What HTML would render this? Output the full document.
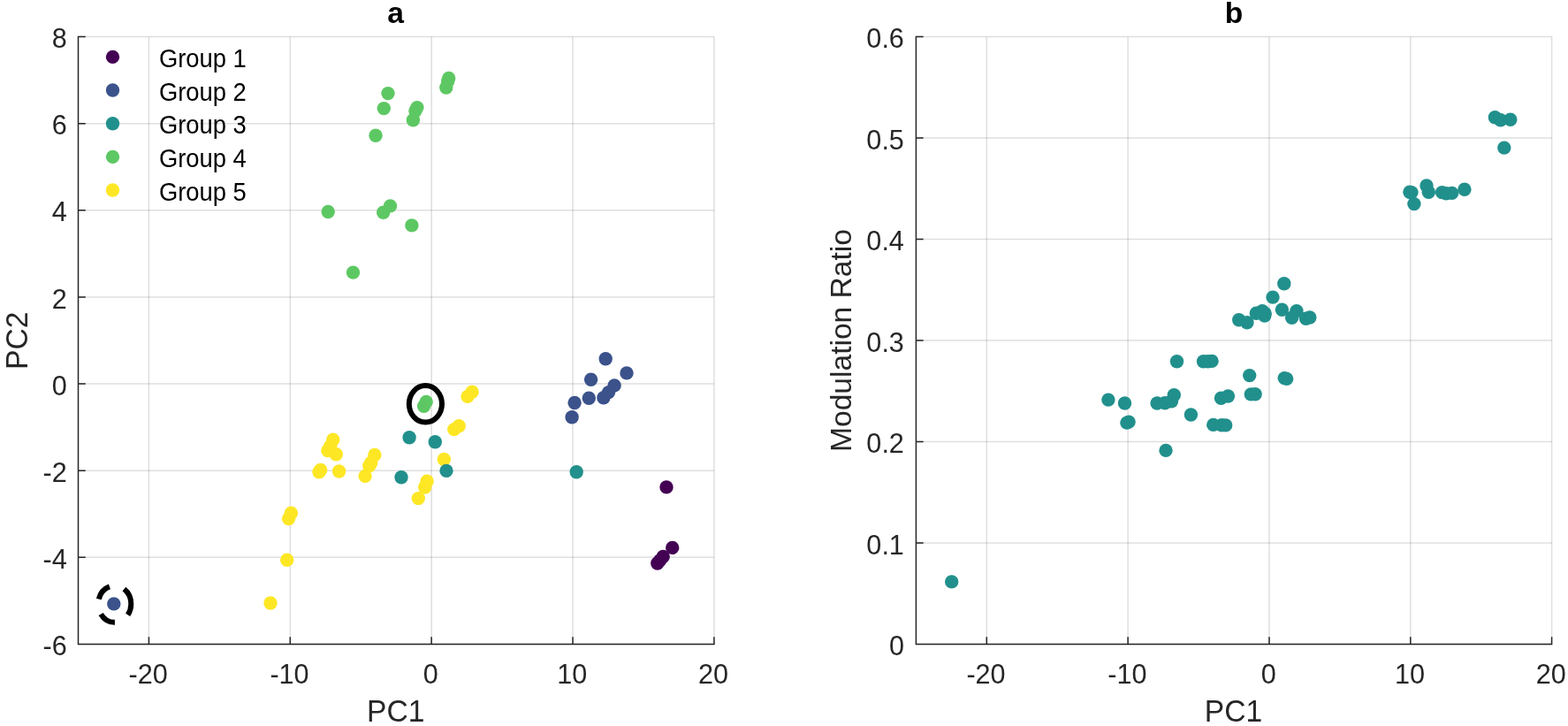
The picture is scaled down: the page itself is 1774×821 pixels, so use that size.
<!DOCTYPE html>
<html lang="en"><head><meta charset="utf-8"><title>PCA scatter</title>
<style>html,body{margin:0;padding:0;background:#fff}body{width:1774px;height:821px;overflow:hidden}svg{display:block}text{font-family:"Liberation Sans",sans-serif}</style>
</head><body>
<svg width="1774" height="821" viewBox="0 0 1774 821" font-family="'Liberation Sans', sans-serif">
<rect width="1774" height="821" fill="#fff"/>
<path d="M168.43 41.5V728.5M328.3 41.5V728.5M488.17 41.5V728.5M648.03 41.5V728.5M807.9 41.5V728.5" stroke="#262626" stroke-opacity="0.15" stroke-width="1.5" fill="none"/>
<path d="M88.5 728.5H807.9M88.5 630.36H807.9M88.5 532.21H807.9M88.5 434.07H807.9M88.5 335.93H807.9M88.5 237.79H807.9M88.5 139.64H807.9M88.5 41.5H807.9" stroke="#262626" stroke-opacity="0.15" stroke-width="1.5" fill="none"/>
<path d="M1116.31 41.5V728.5M1276.13 41.5V728.5M1435.96 41.5V728.5M1595.78 41.5V728.5M1755.6 41.5V728.5" stroke="#262626" stroke-opacity="0.15" stroke-width="1.5" fill="none"/>
<path d="M1036.4 728.5H1755.6M1036.4 614H1755.6M1036.4 499.5H1755.6M1036.4 385H1755.6M1036.4 270.5H1755.6M1036.4 156H1755.6M1036.4 41.5H1755.6" stroke="#262626" stroke-opacity="0.15" stroke-width="1.5" fill="none"/>
<g fill="#5dc863"><circle cx="439" cy="105.6" r="7.7"/><circle cx="434.3" cy="122.6" r="7.7"/><circle cx="425" cy="153.3" r="7.7"/><circle cx="471.9" cy="121.6" r="7.7"/><circle cx="469.9" cy="125.5" r="7.7"/><circle cx="467.4" cy="135.8" r="7.7"/><circle cx="507.7" cy="88.4" r="7.7"/><circle cx="506.7" cy="91.8" r="7.7"/><circle cx="504.8" cy="99" r="7.7"/><circle cx="371.2" cy="239.5" r="7.7"/><circle cx="441.5" cy="232.9" r="7.7"/><circle cx="433.7" cy="240.3" r="7.7"/><circle cx="465.9" cy="254.9" r="7.7"/><circle cx="399.5" cy="308.1" r="7.7"/><circle cx="482.2" cy="454.4" r="7.7"/><circle cx="479.6" cy="459.3" r="7.7"/></g>
<g fill="#fde725"><circle cx="534.1" cy="443.2" r="7.7"/><circle cx="529" cy="448.4" r="7.7"/><circle cx="519.2" cy="481.8" r="7.7"/><circle cx="513.8" cy="485.6" r="7.7"/><circle cx="376.8" cy="497.3" r="7.7"/><circle cx="370.8" cy="509.5" r="7.7"/><circle cx="380.3" cy="513.8" r="7.7"/><circle cx="373.8" cy="504.4" r="7.7"/><circle cx="361" cy="533.8" r="7.7"/><circle cx="362.7" cy="531.4" r="7.7"/><circle cx="383.6" cy="533" r="7.7"/><circle cx="423.9" cy="514.5" r="7.7"/><circle cx="419.8" cy="523.3" r="7.7"/><circle cx="417.8" cy="526.7" r="7.7"/><circle cx="413.1" cy="538.4" r="7.7"/><circle cx="483.1" cy="544.3" r="7.7"/><circle cx="480.7" cy="551" r="7.7"/><circle cx="473.3" cy="563.6" r="7.7"/><circle cx="502.3" cy="519.5" r="7.7"/><circle cx="329.4" cy="580.3" r="7.7"/><circle cx="326.6" cy="586.5" r="7.7"/><circle cx="324.7" cy="633.3" r="7.7"/><circle cx="306" cy="682" r="7.7"/></g>
<g fill="#21908c"><circle cx="463.1" cy="494.7" r="7.7"/><circle cx="492.3" cy="499.7" r="7.7"/><circle cx="454" cy="539.8" r="7.7"/><circle cx="505" cy="532.4" r="7.7"/><circle cx="652.2" cy="533.7" r="7.7"/></g>
<g fill="#3b528b"><circle cx="685.2" cy="405.7" r="7.7"/><circle cx="709" cy="421.9" r="7.7"/><circle cx="668.6" cy="429.2" r="7.7"/><circle cx="695.1" cy="435.9" r="7.7"/><circle cx="688.6" cy="443.6" r="7.7"/><circle cx="682.9" cy="449.7" r="7.7"/><circle cx="666.3" cy="450.3" r="7.7"/><circle cx="650.1" cy="455.5" r="7.7"/><circle cx="647.1" cy="471.7" r="7.7"/><circle cx="128.8" cy="682.9" r="7.7"/></g>
<g fill="#440154"><circle cx="754" cy="550.9" r="7.7"/><circle cx="760.7" cy="619.4" r="7.7"/><circle cx="743.8" cy="637" r="7.7"/><circle cx="746.8" cy="633.6" r="7.7"/><circle cx="750.2" cy="629.5" r="7.7"/></g>
<g fill="#21908c"><circle cx="1253.9" cy="452.1" r="7.7"/><circle cx="1272.5" cy="456" r="7.7"/><circle cx="1274.9" cy="478.1" r="7.7"/><circle cx="1277.1" cy="477.1" r="7.7"/><circle cx="1331.5" cy="408.8" r="7.7"/><circle cx="1361.5" cy="408.7" r="7.7"/><circle cx="1366.6" cy="408.7" r="7.7"/><circle cx="1371.1" cy="408.4" r="7.7"/><circle cx="1413.7" cy="424.6" r="7.7"/><circle cx="1453.2" cy="427.6" r="7.7"/><circle cx="1455.7" cy="428.4" r="7.7"/><circle cx="1309.1" cy="456" r="7.7"/><circle cx="1317.9" cy="455.8" r="7.7"/><circle cx="1325.4" cy="453.7" r="7.7"/><circle cx="1328.3" cy="446.7" r="7.7"/><circle cx="1381.5" cy="450.3" r="7.7"/><circle cx="1389.4" cy="448" r="7.7"/><circle cx="1415.3" cy="445.9" r="7.7"/><circle cx="1420.1" cy="445.7" r="7.7"/><circle cx="1347.4" cy="469" r="7.7"/><circle cx="1372.7" cy="480.4" r="7.7"/><circle cx="1382.2" cy="480.8" r="7.7"/><circle cx="1386.7" cy="480.9" r="7.7"/><circle cx="1319" cy="509.4" r="7.7"/><circle cx="1452.8" cy="320.7" r="7.7"/><circle cx="1440" cy="336.1" r="7.7"/><circle cx="1450.4" cy="350.2" r="7.7"/><circle cx="1401.7" cy="361.7" r="7.7"/><circle cx="1410.9" cy="364.7" r="7.7"/><circle cx="1421.3" cy="354.3" r="7.7"/><circle cx="1428.1" cy="351.6" r="7.7"/><circle cx="1430.8" cy="357" r="7.7"/><circle cx="1431.2" cy="354.4" r="7.7"/><circle cx="1466.9" cy="351.6" r="7.7"/><circle cx="1461.6" cy="359.3" r="7.7"/><circle cx="1477.5" cy="360.3" r="7.7"/><circle cx="1481.8" cy="359" r="7.7"/><circle cx="1691.4" cy="132.7" r="7.7"/><circle cx="1697.7" cy="135.8" r="7.7"/><circle cx="1708.8" cy="135.2" r="7.7"/><circle cx="1701.8" cy="167.1" r="7.7"/><circle cx="1594.9" cy="217.3" r="7.7"/><circle cx="1597" cy="217.6" r="7.7"/><circle cx="1599.9" cy="230.6" r="7.7"/><circle cx="1614" cy="210" r="7.7"/><circle cx="1616.3" cy="217.3" r="7.7"/><circle cx="1631.5" cy="217.6" r="7.7"/><circle cx="1636.2" cy="218.7" r="7.7"/><circle cx="1642.7" cy="218.4" r="7.7"/><circle cx="1656.9" cy="214.2" r="7.7"/><circle cx="1076.7" cy="657.9" r="7.7"/></g>
<ellipse cx="481.4" cy="456.8" rx="18.6" ry="20.7" fill="none" stroke="#000" stroke-width="6"/>
<path d="M148.29999999999998 683.1A18.6 20.7 0 1 0 111.1 683.1A18.6 20.7 0 1 0 148.29999999999998 683.1" fill="none" stroke="#000" stroke-width="6" stroke-dasharray="19.1 17.5"/>
<path d="M88.5 40.75V728.5H808.65M168.43 728.5v-8.3M328.3 728.5v-8.3M488.17 728.5v-8.3M648.03 728.5v-8.3M807.9 728.5v-8.3M88.5 728.5h8.3M88.5 630.36h8.3M88.5 532.21h8.3M88.5 434.07h8.3M88.5 335.93h8.3M88.5 237.79h8.3M88.5 139.64h8.3M88.5 41.5h8.3" stroke="#262626" stroke-width="1.5" fill="none" stroke-linejoin="miter"/>
<g font-size="30.6" fill="#262626" text-anchor="middle">
<text transform="translate(167.63 772.6) scale(1 1.05)">-20</text>
<text transform="translate(327.5 772.6) scale(1 1.05)">-10</text>
<text transform="translate(487.37 772.6) scale(1 1.05)">0</text>
<text transform="translate(647.23 772.6) scale(1 1.05)">10</text>
<text transform="translate(807.1 772.6) scale(1 1.05)">20</text>
</g>
<g font-size="30.6" fill="#262626" text-anchor="end">
<text transform="translate(75.7 741.1) scale(1 1.05)">-6</text>
<text transform="translate(75.7 642.96) scale(1 1.05)">-4</text>
<text transform="translate(75.7 544.81) scale(1 1.05)">-2</text>
<text transform="translate(75.7 446.67) scale(1 1.05)">0</text>
<text transform="translate(75.7 348.53) scale(1 1.05)">2</text>
<text transform="translate(75.7 250.39) scale(1 1.05)">4</text>
<text transform="translate(75.7 152.24) scale(1 1.05)">6</text>
<text transform="translate(75.7 54.1) scale(1 1.05)">8</text>
</g>
<text transform="translate(447.7 816.1) scale(1 1.05)" font-size="33.6" fill="#262626" text-anchor="middle">PC1</text>
<text transform="translate(447.5 26.3) scale(1 1)" font-size="33.6" font-weight="bold" fill="#000" text-anchor="middle">a</text>
<path d="M1036.4 40.75V728.5H1756.35M1116.31 728.5v-8.3M1276.13 728.5v-8.3M1435.96 728.5v-8.3M1595.78 728.5v-8.3M1755.6 728.5v-8.3M1036.4 728.5h8.3M1036.4 614h8.3M1036.4 499.5h8.3M1036.4 385h8.3M1036.4 270.5h8.3M1036.4 156h8.3M1036.4 41.5h8.3" stroke="#262626" stroke-width="1.5" fill="none" stroke-linejoin="miter"/>
<g font-size="30.6" fill="#262626" text-anchor="middle">
<text transform="translate(1115.51 772.6) scale(1 1.05)">-20</text>
<text transform="translate(1275.33 772.6) scale(1 1.05)">-10</text>
<text transform="translate(1435.16 772.6) scale(1 1.05)">0</text>
<text transform="translate(1594.98 772.6) scale(1 1.05)">10</text>
<text transform="translate(1754.8 772.6) scale(1 1.05)">20</text>
</g>
<g font-size="30.6" fill="#262626" text-anchor="end">
<text transform="translate(1022.9 741.1) scale(1 1.05)">0</text>
<text transform="translate(1022.9 626.6) scale(1 1.05)">0.1</text>
<text transform="translate(1022.9 512.1) scale(1 1.05)">0.2</text>
<text transform="translate(1022.9 397.6) scale(1 1.05)">0.3</text>
<text transform="translate(1022.9 283.1) scale(1 1.05)">0.4</text>
<text transform="translate(1022.9 168.6) scale(1 1.05)">0.5</text>
<text transform="translate(1022.9 54.1) scale(1 1.05)">0.6</text>
</g>
<text transform="translate(1395.5 816.1) scale(1 1.05)" font-size="33.6" fill="#262626" text-anchor="middle">PC1</text>
<text transform="translate(1395.9 26.3) scale(1 0.975)" font-size="33.6" font-weight="bold" fill="#000" text-anchor="middle">b</text>
<text transform="translate(31.1 385.3) rotate(-90) scale(1 1.05)" font-size="33.6" fill="#262626" text-anchor="middle">PC2</text>
<text transform="translate(962.9 385) rotate(-90)" font-size="33.6" fill="#262626" text-anchor="middle">Modulation Ratio</text>
<g font-size="27.4" fill="#000">
<circle cx="127.5" cy="64.4" r="7.7" fill="#440154"/><text transform="translate(179.9 75.9) scale(1 1.05)">Group 1</text>
<circle cx="127.5" cy="102.05" r="7.7" fill="#3b528b"/><text transform="translate(179.9 113.55) scale(1 1.05)">Group 2</text>
<circle cx="127.5" cy="139.7" r="7.7" fill="#21908c"/><text transform="translate(179.9 151.2) scale(1 1.05)">Group 3</text>
<circle cx="127.5" cy="177.35" r="7.7" fill="#5dc863"/><text transform="translate(179.9 188.85) scale(1 1.05)">Group 4</text>
<circle cx="127.5" cy="215" r="7.7" fill="#fde725"/><text transform="translate(179.9 226.5) scale(1 1.05)">Group 5</text>
</g>
</svg>
</body></html>
